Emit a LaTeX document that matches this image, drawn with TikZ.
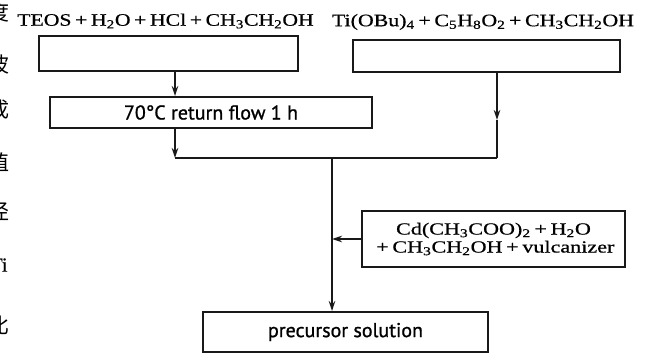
\documentclass[tikz,border=0pt]{standalone}
\usepackage{fontspec}
\setmainfont{Liberation Serif}[FakeBold=0.6]
\newfontfamily\labelfont{PT Sans}[FakeBold=1.0]
\newfontfamily\cjk{Noto Sans CJK SC}
\usetikzlibrary{arrows.meta}
\tikzset{
  box/.style={draw=black!90, line width=1.9pt, inner sep=0pt, align=center},
  conn/.style={draw=black!90, line width=1.9pt},
  arr/.style={conn, -{Stealth[length=10pt,width=6.5pt]}},
  formula/.style={inner sep=0pt, font=\fontsize{17.5}{19}\selectfont},
  flowtext/.style={font=\labelfont\fontsize{20}{22}\selectfont},
  frag/.style={inner sep=0pt, font=\cjk\fontsize{21}{23}\selectfont, text=black}
}
\newcommand{\sbs}[1]{\textsubscript{#1}}
\newcommand{\pl}{\,+\,}
\newcommand{\wide}[1]{\scalebox{1.3}[1]{#1}}
\begin{document}
\begin{tikzpicture}[x=1pt,y=1pt]
\useasboundingbox (0,0) rectangle (648,-354);
% page fragments on the left edge
\begin{scope}
\clip (0,0) rectangle (648,-354);
\node[frag] (f1) at (-1,-12) {度};
\node[frag] (f2) at (-1,-65) {波};
\node[frag] (f3) at (-1,-110) {成};
\node[frag] (f4) at (-1,-163) {值};
\node[frag] (f5) at (-1,-212) {径};
\node[frag, font=\fontsize{20}{22}\selectfont] (f6) at (-1,-265) {Ti};
\node[frag] (f7) at (-1,-325) {比};
\end{scope}
% formulas
\node[formula] (t1) at (165.5,-21) {\scalebox{1.24}[1]{TEOS\pl H\sbs{2}O\pl HCl\pl CH\sbs{3}CH\sbs{2}OH}};
\node[formula] (t2) at (483,-22) {\scalebox{1.25}[1]{Ti(OBu)\sbs{4}\pl C\sbs{5}H\sbs{8}O\sbs{2}\pl CH\sbs{3}CH\sbs{2}OH}};
% boxes
\node[box, minimum width=259pt, minimum height=35pt] (box1) at (168.5,-53.5) {};
\node[box, minimum width=267pt, minimum height=32pt] (box2) at (486.5,-56) {};
\node[box, minimum width=322pt, minimum height=31pt, flowtext] (box3) at (211,-112.5) {70°C return flow 1 h};
\node[box, minimum width=263pt, minimum height=56pt, font=\fontsize{17}{18}\selectfont] (box4) at (493.5,-239)
  {\wide{Cd(CH\sbs{3}COO)\sbs{2}\pl H\sbs{2}O}\\ \wide{\pl CH\sbs{3}CH\sbs{2}OH\pl vulcanizer}};
\node[box, minimum width=285pt, minimum height=40pt, flowtext] (box5) at (345.5,-332) {precursor solution};
% junctions
\coordinate (j1) at (175,-158);
\coordinate (j2) at (497,-158);
\coordinate (j3) at (332,-158);
\coordinate (j4) at (332,-239);
\coordinate (m2) at (497,-120);
% connectors
\draw[arr] (box1.south -| j1) -- (box3.north -| j1);
\draw[arr] (box3.south -| j1) -- (j1);
\draw[conn] (j1) -- (j2);
\draw[arr] (box2.south -| j2) -- (m2);
\draw[conn] (m2) -- (j2);
\draw[arr] (j3) -- (box5.north -| j3);
\draw[arr] (box4.west) -- (j4);
\end{tikzpicture}
\end{document}
